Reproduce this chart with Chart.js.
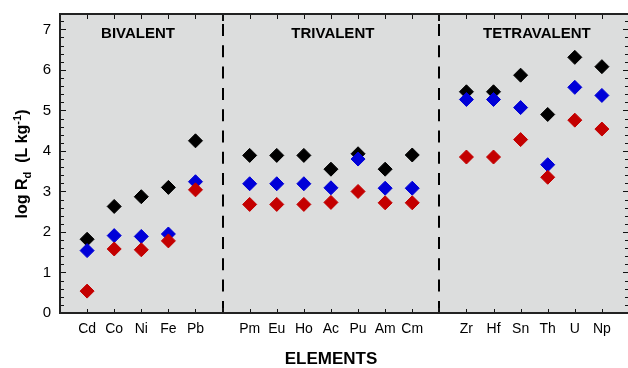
<!DOCTYPE html>
<html>
<head>
<meta charset="utf-8">
<script src="https://cdn.jsdelivr.net/npm/chart.js@4/dist/chart.umd.min.js"></script>
<style>
  html, body { margin: 0; padding: 0; background: #fff; overflow: hidden; }
  #wrap { position: absolute; left: 0; top: 0; width: 637px; height: 368px; }
</style>
</head>
<body>
<div id="wrap"><canvas id="c" width="637" height="368"></canvas></div>
<script>
// Element groups by valence state
const groupNames = ['BIVALENT', 'TRIVALENT', 'TETRAVALENT'];
const bivalent = ['Cd', 'Co', 'Ni', 'Fe', 'Pb'];
const trivalent = ['Pm', 'Eu', 'Ho', 'Ac', 'Pu', 'Am', 'Cm'];
const tetravalent = ['Zr', 'Hf', 'Sn', 'Th', 'U', 'Np'];

// log Rd values (L/kg), one entry per element in the order above
const seriesBlack = [1.82, 2.63, 2.87, 3.10, 4.25,
                     3.89, 3.89, 3.89, 3.55, 3.93, 3.55, 3.90,
                     5.46, 5.46, 5.87, 4.90, 6.31, 6.08];
const seriesBlue  = [1.54, 1.91, 1.89, 1.95, 3.24,
                     3.19, 3.19, 3.19, 3.09, 3.80, 3.08, 3.08,
                     5.27, 5.27, 5.07, 3.66, 5.57, 5.37];
const seriesRed   = [0.54, 1.58, 1.56, 1.78, 3.04,
                     2.68, 2.68, 2.68, 2.73, 3.00, 2.72, 2.72,
                     3.85, 3.85, 4.28, 3.35, 4.76, 4.54];

const yTicks = [0, 1, 2, 3, 4, 5, 6, 7];

// Each group occupies consecutive slots on the x scale, with one empty slot between groups
const groups = [bivalent, trivalent, tetravalent];
const slotOf = [];
const slotName = {};
const dividers = [];
const groupCenters = [];
let slot = 1;
groups.forEach((g, gi) => {
  const first = slot;
  g.forEach(name => {
    slotOf.push(slot);
    slotName[slot] = name;
    slot++;
  });
  groupCenters.push((first + slot - 1) / 2);
  if (gi < groups.length - 1) { dividers.push(slot); slot++; }
});
const xMax = slot;

const toPoints = vals => vals.map((v, i) => ({ x: slotOf[i], y: v }));

const FONT = "'Liberation Sans', Arial, Helvetica, sans-serif";

const decor = {
  id: 'decor',
  beforeDraw(chart) {
    const { ctx, chartArea: a } = chart;
    ctx.save();
    ctx.fillStyle = '#dcdddd';
    ctx.fillRect(a.left, a.top, a.right - a.left, a.bottom - a.top);
    ctx.restore();
  },
  beforeDatasetsDraw(chart) {
    const { ctx, chartArea: a, scales } = chart;
    const xs = scales.x;
    ctx.save();
    // dashed group dividers
    ctx.strokeStyle = '#000';
    ctx.lineWidth = 2;
    ctx.setLineDash([12, 9.3]);
    ctx.lineDashOffset = 11.3;
    dividers.forEach(d => {
      const px = Math.round(xs.getPixelForValue(d));
      ctx.beginPath();
      ctx.moveTo(px, a.top);
      ctx.lineTo(px, a.bottom);
      ctx.stroke();
    });
    ctx.setLineDash([]);
    // group headings
    ctx.fillStyle = '#000';
    ctx.font = `bold 15px ${FONT}`;
    ctx.textAlign = 'center';
    ctx.textBaseline = 'middle';
    const headShift = [-0.12, 0.07, 0.1];
    groupNames.forEach((n, i) => {
      ctx.fillText(n, xs.getPixelForValue(groupCenters[i] + headShift[i]), a.top + 20);
    });
    ctx.restore();
  },
  afterDraw(chart) {
    const { ctx, chartArea: a, scales } = chart;
    const xs = scales.x, ys = scales.y;
    ctx.save();
    ctx.setLineDash([]);
    ctx.strokeStyle = '#111';
    ctx.lineWidth = 1;
    // inward ticks on left and right axes
    for (let k = 0; k * 0.2 <= ys.max + 1e-9; k++) {
      const py = Math.round(ys.getPixelForValue(k * 0.2)) + 0.5;
      const len = (k % 5 === 0) ? 6 : 4;
      ctx.beginPath();
      ctx.moveTo(a.left, py); ctx.lineTo(a.left + len, py);
      ctx.moveTo(a.right, py); ctx.lineTo(a.right - len, py);
      ctx.stroke();
    }
    // inward ticks on top and bottom axes
    for (let s = 1; s < xMax; s++) {
      const major = dividers.includes(s);
      const px = Math.round(xs.getPixelForValue(s)) + (major ? 0 : 0.5);
      ctx.lineWidth = major ? 2 : 1;
      ctx.beginPath();
      ctx.moveTo(px, a.bottom); ctx.lineTo(px, a.bottom - (major ? 5 : 4));
      ctx.moveTo(px, a.top); ctx.lineTo(px, a.top + (major ? 7 : 5));
      ctx.stroke();
    }
    // frame
    ctx.lineWidth = 2;
    ctx.strokeStyle = '#222';
    ctx.beginPath();
    ctx.moveTo(a.right, a.top);
    ctx.lineTo(a.left, a.top);
    ctx.lineTo(a.left, a.bottom);
    ctx.lineTo(a.right, a.bottom);
    ctx.stroke();
    ctx.restore();

    // y-axis title with subscript and superscript
    ctx.save();
    const parts = [
      { t: 'log R', f: `bold 16px ${FONT}`, dy: 0 },
      { t: 'd', f: `bold 11px ${FONT}`, dy: 4 },
      { t: '  (L kg', f: `bold 16px ${FONT}`, dy: 0 },
      { t: '-1', f: `bold 11px ${FONT}`, dy: -6 },
      { t: ')', f: `bold 16px ${FONT}`, dy: 0 }
    ];
    let total = 0;
    parts.forEach(p => { ctx.font = p.f; p.w = ctx.measureText(p.t).width; total += p.w; });
    ctx.translate(27, 164);
    ctx.rotate(-Math.PI / 2);
    ctx.fillStyle = '#000';
    ctx.textAlign = 'left';
    ctx.textBaseline = 'alphabetic';
    let cx = -total / 2;
    parts.forEach(p => { ctx.font = p.f; ctx.fillText(p.t, cx, p.dy); cx += p.w; });
    ctx.restore();

    // x-axis title
    ctx.save();
    ctx.fillStyle = '#000';
    ctx.font = `bold 17px ${FONT}`;
    ctx.textAlign = 'center';
    ctx.textBaseline = 'middle';
    ctx.fillText('ELEMENTS', 331, 359);
    ctx.restore();
  }
};

const mk = (label, data, color, order) => ({
  label, data, order,
  pointStyle: 'rectRot',
  pointRadius: 7,
  pointHoverRadius: 7,
  borderWidth: 1,
  backgroundColor: color,
  borderColor: color,
  showLine: false
});

// keep the plot area exactly where the layout puts it
const noEdgePadding = scale => {
  scale.paddingTop = 0; scale.paddingBottom = 0;
  scale.paddingLeft = 0; scale.paddingRight = 0;
};

new Chart(document.getElementById('c'), {
  type: 'scatter',
  data: {
    datasets: [
      mk('black', toPoints(seriesBlack), '#000000', 3),
      mk('blue', toPoints(seriesBlue), '#0000d8', 2),
      mk('red', toPoints(seriesRed), '#c40000', 1)
    ]
  },
  options: {
    responsive: false,
    animation: false,
    devicePixelRatio: 1,
    layout: { padding: { left: 0, top: 14, right: 3, bottom: 0 } },
    plugins: { legend: { display: false }, tooltip: { enabled: false } },
    scales: {
      x: {
        type: 'linear', min: 0, max: xMax,
        grid: { display: false, drawTicks: false },
        border: { display: false },
        afterBuildTicks(scale) {
          scale.ticks = Object.keys(slotName).map(s => ({ value: +s }));
        },
        afterFit(scale) { scale.height = 55; noEdgePadding(scale); },
        ticks: {
          autoSkip: false, maxRotation: 0, minRotation: 0,
          padding: 8,
          color: '#000',
          font: { family: FONT, size: 14 },
          callback: v => slotName[v] || ''
        }
      },
      y: {
        type: 'linear', min: 0, max: 7.38,
        grid: { display: false, drawTicks: false },
        border: { display: false },
        afterBuildTicks(scale) { scale.ticks = yTicks.map(v => ({ value: v })); },
        afterFit(scale) { scale.width = 60; noEdgePadding(scale); },
        ticks: {
          padding: 9,
          color: '#000',
          font: { family: FONT, size: 15 },
          callback: v => String(v)
        }
      }
    }
  },
  plugins: [decor]
});
</script>
</body>
</html>
